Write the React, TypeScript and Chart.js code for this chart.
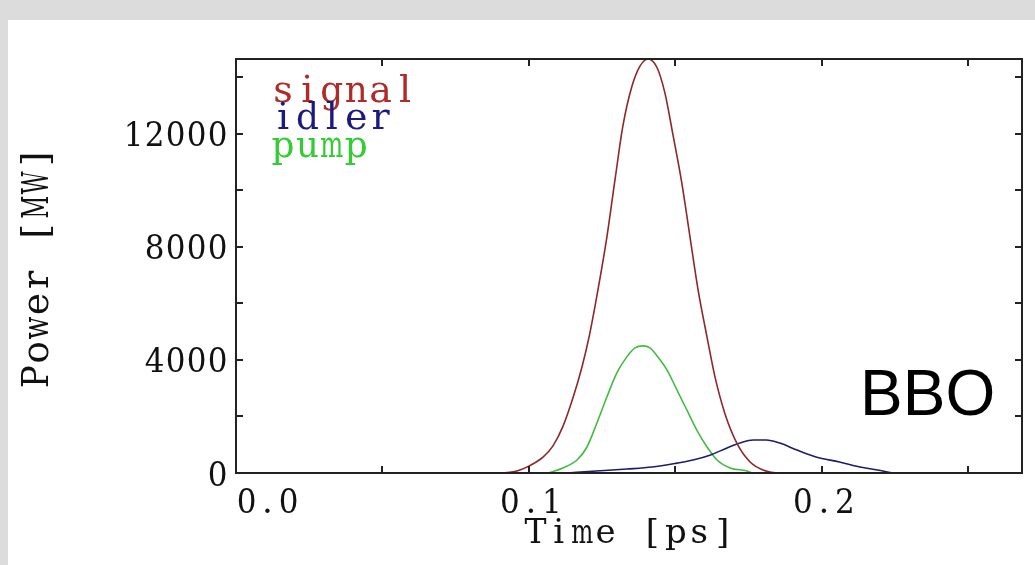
import React, { useEffect, useRef } from "react";
import { Chart, registerables } from "chart.js";

Chart.register(...registerables);

// ---- data ----
const signalT = [0.0911, 0.0959, 0.1003, 0.1048, 0.1082, 0.1116, 0.115, 0.1181, 0.1208, 0.1235, 0.1266, 0.1294, 0.1321, 0.1352, 0.1379, 0.1406, 0.1437, 0.1464, 0.1491, 0.1522, 0.1549, 0.1577, 0.1608, 0.1635, 0.1669, 0.171, 0.1754, 0.1799, 0.1857, 0.1884];
const signalP = [0, 70, 260, 560, 960, 1650, 2650, 3750, 4950, 6450, 8350, 10400, 12300, 13700, 14400, 14650, 14350, 13450, 12000, 10250, 8400, 6500, 4800, 3400, 2100, 1050, 400, 110, 0, 0];

const idlerT = [0.113, 0.123, 0.1335, 0.142, 0.1505, 0.156, 0.162, 0.1676, 0.172, 0.1765, 0.181, 0.1857, 0.1915, 0.198, 0.206, 0.213, 0.219, 0.224];
const idlerP = [0, 70, 140, 210, 350, 460, 640, 885, 1060, 1170, 1170, 1060, 810, 565, 390, 210, 105, 0];

const pumpT = [0.1065, 0.1116, 0.1164, 0.1198, 0.1232, 0.1266, 0.13, 0.1334, 0.1362, 0.1389, 0.1413, 0.144, 0.1471, 0.1505, 0.1539, 0.1573, 0.1608, 0.1642, 0.1686, 0.1744, 0.1761];
const pumpP = [0, 180, 460, 920, 1770, 2690, 3540, 4110, 4430, 4500, 4430, 4110, 3650, 2940, 2230, 1520, 920, 460, 180, 70, 0];

const xMin = 0;
const xMax = 0.2683;
const yMin = 0;
const yMax = 14650;

const xTickValues = [0, 0.05, 0.1, 0.15, 0.2, 0.25];
const xLabelValues = [0, 0.1, 0.2];
const xLabelTexts = ["0.0", "0.1", "0.2"];
const yTickValues = [0, 2000, 4000, 6000, 8000, 10000, 12000, 14000];
const yLabelValues = [0, 4000, 8000, 12000];
const yLabelTexts = ["0", "4000", "8000", "12000"];

const seriesNames = ["signal", "idler", "pump"];
const lineColors = ["#8c2828", "#1c1c70", "#44bb44"];
const legendColors = ["#b02a2a", "#1a1a80", "#33cc33"];

const xTitle = "Time [ps]";
const yTitle = "Power [MW]";
const tag = "BBO";

const toPts = (t: number[], p: number[]) => t.map((v, i) => ({ x: v, y: p[i] }));

function drawMono(ctx: CanvasRenderingContext2D, text: string, left: number, baseline: number, cell: number) {
  ctx.textAlign = "center";
  ctx.textBaseline = "alphabetic";
  const maxW = cell * 0.94;
  for (let i = 0; i < text.length; i++) {
    const ch = text[i];
    const cx = left + cell * (i + 0.5);
    const w = ctx.measureText(ch).width;
    if (w > maxW) {
      ctx.save();
      ctx.translate(cx, baseline);
      ctx.scale(maxW / w, 1);
      ctx.fillText(ch, 0, 0);
      ctx.restore();
    } else {
      ctx.fillText(ch, cx, baseline);
    }
  }
}

const decor = {
  id: "decor",
  afterDraw(chart: any) {
    const ctx: CanvasRenderingContext2D = chart.ctx;
    const xs = chart.scales.x;
    const ys = chart.scales.y;
    const a = chart.chartArea;
    ctx.save();
    // frame
    ctx.strokeStyle = "#222";
    ctx.lineWidth = 2;
    ctx.strokeRect(a.left, a.top, a.right - a.left, a.bottom - a.top);
    // ticks inward
    const tl = 7;
    ctx.beginPath();
    xTickValues.forEach((v) => {
      const px = Math.round(xs.getPixelForValue(v));
      ctx.moveTo(px, a.bottom);
      ctx.lineTo(px, a.bottom - tl);
      ctx.moveTo(px, a.top);
      ctx.lineTo(px, a.top + tl);
    });
    yTickValues.forEach((v) => {
      const py = Math.round(ys.getPixelForValue(v));
      ctx.moveTo(a.left, py);
      ctx.lineTo(a.left + tl, py);
      ctx.moveTo(a.right, py);
      ctx.lineTo(a.right - tl, py);
    });
    ctx.stroke();

    ctx.fillStyle = "#111";
    // y tick labels
    ctx.font = "34px 'DejaVu Serif'";
    const yc = 21;
    yLabelValues.forEach((v, i) => {
      const py = ys.getPixelForValue(v);
      const s = yLabelTexts[i];
      drawMono(ctx, s, a.left - 8 - yc * s.length, py + 12.5, yc);
    });
    // x tick labels
    xLabelValues.forEach((v, i) => {
      const px = xs.getPixelForValue(v);
      const s = xLabelTexts[i];
      const left = i === 0 ? px : px + 2 - (yc * s.length) / 2;
      drawMono(ctx, s, left, a.bottom + 40, yc);
    });
    // x title
    const xc = 23.4;
    const cx = (a.left + a.right) / 2;
    drawMono(ctx, xTitle, cx - (xc * xTitle.length) / 2, a.bottom + 70, xc);
    // y title
    ctx.font = "38px 'DejaVu Serif'";
    const yt = 24.2;
    ctx.save();
    ctx.translate(40, 247.7);
    ctx.rotate(-Math.PI / 2);
    drawMono(ctx, yTitle, -(yt * yTitle.length) / 2, 0, yt);
    ctx.restore();
    // legend
    ctx.font = "38px 'DejaVu Serif'";
    const lc = 24.4;
    const lb = [82, 109, 137];
    seriesNames.forEach((n, i) => {
      ctx.fillStyle = legendColors[i];
      drawMono(ctx, n, 262.8, lb[i], lc);
    });
    // tag
    ctx.fillStyle = "#000";
    ctx.font = "64px 'Liberation Sans'";
    ctx.textAlign = "left";
    ctx.fillText(tag, 852, 395);
    ctx.restore();
  },
};

export default function App() {
  const ref = useRef<HTMLCanvasElement>(null);
  useEffect(() => {
    document.documentElement.style.background = "#dcdcdc";
    document.body.style.background = "#dcdcdc";
    const cv = ref.current!;
    const chart = new Chart(cv, {
      type: "line",
      data: {
        datasets: [
          { label: seriesNames[0], data: toPts(signalT, signalP), borderColor: lineColors[0] },
          { label: seriesNames[1], data: toPts(idlerT, idlerP), borderColor: lineColors[1] },
          { label: seriesNames[2], data: toPts(pumpT, pumpP), borderColor: lineColors[2] },
        ].map((d) => ({ ...d, borderWidth: 1.6, pointRadius: 0, fill: false, cubicInterpolationMode: "monotone" as const })),
      },
      options: {
        animation: false,
        responsive: false,
        maintainAspectRatio: false,
        layout: { padding: { left: 228, top: 39, right: 13, bottom: 92 } },
        plugins: { legend: { display: false }, tooltip: { enabled: false } },
        scales: {
          x: { type: "linear", min: xMin, max: xMax, display: false },
          y: { type: "linear", min: yMin, max: yMax, display: false },
        },
      },
      plugins: [decor],
    });
    return () => chart.destroy();
  }, []);
  return (
    <div style={{ position: "absolute", left: 8, top: 20, width: 1027, height: 545, background: "#fff" }}>
      <canvas ref={ref} width={1027} height={545} style={{ display: "block" }} />
    </div>
  );
}
